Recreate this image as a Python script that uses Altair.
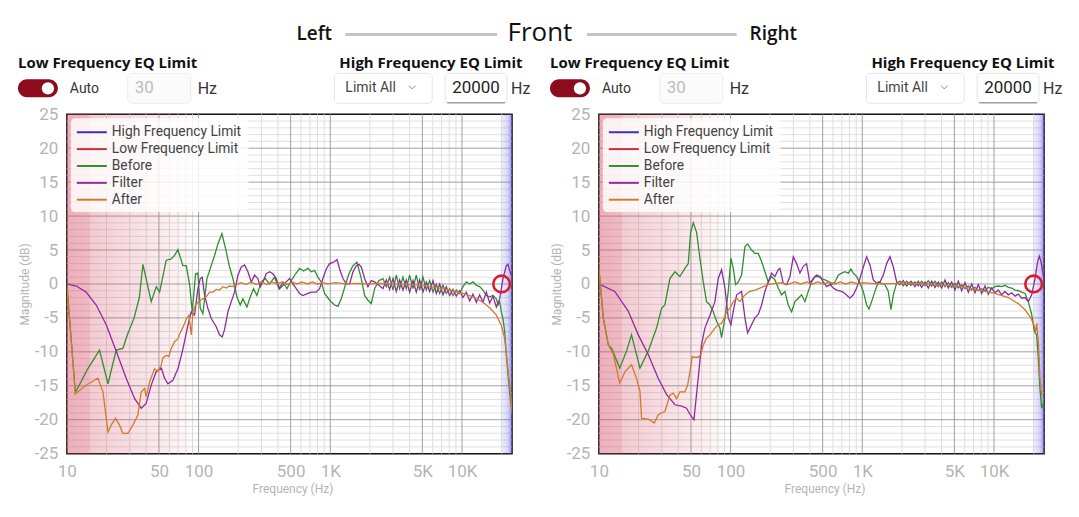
import altair as alt
import pandas as pd

# ---------------- data ----------------
X_DOMAIN = [10, 24000]
Y_DOMAIN = [-25, 25]
X_TICKS = [10, 50, 100, 500, 1000, 5000, 10000]
Y_TICKS = [-25, -20, -15, -10, -5, 0, 5, 10, 15, 20, 25]
X_MAJOR_GRID = [50, 100, 500, 1000, 5000, 10000]
X_MINOR_GRID = [20, 30, 40, 60, 70, 80, 90, 200, 300, 400, 600, 700, 800, 900,
                2000, 3000, 4000, 6000, 7000, 8000, 9000, 20000]
Y_MAJOR_GRID = [-20, -15, -10, -5, 0, 5, 10, 15, 20]
Y_MINOR_GRID = [v for v in range(-24, 25) if v % 5 != 0]

LF_SHADE_DARK = [10, 15]
LF_SHADE_FADE = [10, 100]
HF_SHADE = [20000, 24000]
HF_LIMIT_MARK = [20000, 0]

SERIES = ["High Frequency Limit", "Low Frequency Limit", "Before", "Filter", "After"]
COLORS = ["#3b2ec4", "#c5303f", "#2f8f2f", "#8e2c9e", "#d27a2c"]

L_BEFORE = [(10, 0.0), (11.6, -16.0), (14.4, -12.5), (17.7, -9.75), (20.5, -14.7), (23.7, -9.75),
            (26.6, -9.5), (28.9, -7.4), (32.4, -5.0), (35.5, -2.0), (37.8, 2.9), (43.7, -2.6),
            (47.7, -0.4), (50.6, -1.2), (56.8, 3.5), (62.0, 3.7), (65.7, 4.2), (69.7, 5.05),
            (76.0, 2.7), (80.6, 2.7), (85.4, 0.0), (89.5, -4.1), (94.9, 1.5), (98.8, 1.6),
            (103, -3.6), (107.9, -4.4), (115.7, 0.8), (124.8, 2.7), (132.3, 4.2), (140.2, 5.9),
            (150.4, 7.4), (160.4, 5.2), (171.9, 2.5), (182.3, 0.8), (195.5, -1.9), (207.2, -3.1),
            (217.1, -2.2), (232.8, -3.4), (246.8, -1.9), (261.6, -0.7), (277.3, -1.7), (299.2, 0.3),
            (320.8, 0.8), (346.1, 0.0), (377.7, 1.0), (407.5, -0.7), (437.1, 0.3), (468.8, -0.7),
            (505.6, 0.5), (545.5, 1.5), (585.0, 2.3), (627.4, 1.9), (676.8, 2.3), (717.5, 1.8),
            (760.3, 2.0), (805.9, 1.0), (854.3, 0.3), (905.7, -1.4), (988.3, -2.4), (1079, -3.1),
            (1144, -3.3), (1212, -2.2), (1308, 0.0), (1386, 1.5), (1487, 2.7), (1594, 3.2),
            (1720, 0.8), (1823, -1.7), (1932, -2.4), (2048, -2.9), (2171, -0.7), (2342, 0.5),
            (2512, 0.8), (2663, -0.4), (2822, 1.0), (2992, -0.9), (3171, 1.3), (3362, -0.7),
            (3563, 1.0), (3777, -0.7), (4004, 1.3), (4245, -0.7), (4500, 1.3), (4770, -0.9),
            (5056, 1.0), (5360, -0.9), (5682, 0.5), (6023, -1.2), (6385, 0.0), (6768, -1.4),
            (7175, -0.2), (7603, -1.4), (8060, -0.7), (8544, -1.7), (9057, -0.9), (9601, -1.4),
            (10177, -0.4), (10788, 0.3), (11436, 0.0), (12123, 0.3), (12851, -0.2), (13622, -0.4),
            (14440, -0.9), (15307, -1.7), (16226, -1.9), (17200, -1.7), (18233, -2.2), (18771, -3.1),
            (19327, -2.6), (19898, -4.1), (20487, -5.1), (21093, -7.0), (21718, -10.5), (23010, -15.9),
            (24000, -18.8)]

L_FILTER = [(10, 0.0), (11.8, -0.3), (14.0, -1.2), (16.7, -3.1), (19.9, -6.0), (23.7, -9.9),
            (28.2, -13.9), (32.7, -16.9), (36.7, -18.3), (40.0, -17.6), (43.7, -14.9), (47.7, -12.9),
            (52.1, -12.4), (55.2, -13.9), (58.5, -14.7), (63.8, -14.2), (69.7, -12.5), (76.0, -9.6),
            (83.0, -6.1), (88.0, -4.1), (93.2, -4.6), (98.8, -0.7), (103, 0.8), (106.6, 1.0),
            (111.1, -1.7), (117.7, -3.6), (124.8, -5.1), (136.2, -6.3), (144.3, -7.5), (151.3, -7.8),
            (157.6, -6.7), (167.1, -4.1), (177.1, -2.6), (187.7, -1.2), (198.9, 1.3), (210.9, 2.5),
            (223.6, 2.8), (236.9, 1.8), (251.2, 0.3), (266.3, 1.3), (282.2, 0.8), (294, -0.4),
            (308.1, 0.3), (326.5, 1.5), (346.1, 1.8), (366.9, 1.5), (388.9, 0.8), (412.3, -0.7),
            (437.1, -0.2), (463.3, 0.3), (491.1, 0.8), (520.6, 0.0), (551.9, -0.7), (585.0, -1.4),
            (620.1, -1.7), (676.8, -1.4), (717.5, -1.2), (782.9, -1.2), (829.8, -0.7), (879.6, 0.8),
            (932.3, 2.2), (988.3, 3.0), (1060, 3.2), (1124, 3.6), (1177, 2.2), (1248, 0.8),
            (1323, 0.0), (1403, 0.0), (1487, 1.8), (1576, 2.7), (1651, 2.9), (1720, 2.5),
            (1823, 0.8), (1932, -0.4), (2048, 0.5), (2171, 0.3), (2342, -0.2), (2512, -0.7),
            (2663, 0.6), (2822, -0.8), (2992, 0.8), (3171, -1.1), (3362, 0.6), (3563, -0.9),
            (3777, 0.6), (4004, -1.2), (4245, 0.5), (4500, -1.2), (4770, 0.6), (5056, -1.2),
            (5360, 0.3), (5682, -1.1), (6023, 0.5), (6385, -1.4), (6768, 0.0), (7175, -1.6),
            (7603, -0.4), (8060, -1.7), (8544, -0.8), (9057, -1.8), (9601, -1.0), (10177, -2.0),
            (10788, -1.2), (11436, -2.5), (12123, -1.5), (12851, -2.7), (13622, -1.6), (14440, -2.7),
            (15307, -1.2), (16226, -2.8), (17200, -1.8), (18233, -3.4), (19327, -2.2), (20487, 0.8),
            (21718, 2.7), (22360, 2.9), (23010, 2.0), (24000, 1.0)]

L_AFTER = [(10, -0.4), (11.6, -16.2), (13.2, -15.3), (14.9, -14.6), (17.2, -13.9), (18.8, -15.9),
           (20.5, -21.8), (21.7, -20.8), (23.4, -19.8), (25.1, -20.8), (26.6, -22.0), (29.1, -22.0),
           (31.7, -20.8), (34.6, -19.3), (36.7, -15.9), (38.9, -15.4), (40.0, -16.6), (42.5, -14.4),
           (46.3, -12.5), (49.1, -12.9), (52.1, -11.9), (53.6, -10.9), (56.8, -10.5), (59.5, -10.7),
           (62.0, -9.5), (65.7, -8.5), (69.7, -8.1), (71.7, -7.4), (76.0, -6.4), (80.6, -5.2),
           (84.5, -4.6), (88.0, -7.5), (90.6, -4.1), (94.9, -3.1), (98.8, -2.7), (103, -2.4),
           (107.9, -2.2), (114.4, -1.9), (121.2, -1.2), (128.5, -1.2), (136.2, -0.8), (144.3, -0.9),
           (153.0, -0.4), (162.3, -0.6), (171.9, -0.3), (182.3, -0.4), (193.2, -0.1), (210, 0.2),
           (230, -0.1), (250, 0.3), (275, -0.1), (300, 0.3), (330, -0.1), (360, 0.3), (395, 0.0),
           (430, 0.3), (470, -0.1), (510, 0.3), (560, 0.0), (610, 0.3), (670, 0.0), (730, 0.3),
           (800, 0.0), (880, 0.2), (960, 0.0), (1100, 0.2), (1300, 0.0), (1600, 0.1), (2000, 0.0),
           (2500, 0.1), (3000, 0.0), (4000, -0.1), (5000, -0.2), (5682, -0.4), (7603, -0.8),
           (10177, -1.4), (12123, -1.9), (14440, -2.7), (16226, -3.5), (18233, -4.6), (19898, -6.1),
           (21093, -8.0), (22360, -12.5), (23700, -17.4), (24000, -18.8)]

R_BEFORE = [(10, 2.3), (10.8, -5.0), (11.8, -9.0), (12.5, -9.5), (14.4, -12.4), (16.2, -9.9),
            (17.7, -7.5), (20.5, -12.4), (23.7, -9.9), (27.4, -6.5), (29.9, -3.6), (31.7, -3.1),
            (34.6, 0.8), (37.8, 1.8), (41.2, 1.1), (45.0, 2.3), (47.7, 3.0), (49.7, 7.6), (52.1, 9.0),
            (55.2, 7.6), (58.5, 3.8), (62.0, 0.3), (65.7, -2.6), (69.7, -3.1), (73.9, -4.1),
            (78.3, -5.5), (83.0, -6.5), (85.4, -7.9), (90.6, -5.0), (96.0, -1.1), (100.6, 3.8),
            (104.8, 2.3), (109.1, -0.1), (114.4, 0.3), (121.2, 1.3), (128.5, 5.5), (134.6, 5.9),
            (144.3, 5.0), (153.0, 4.5), (162.3, 4.5), (171.9, 3.3), (182.3, 1.8), (193.2, 0.3),
            (204.8, 1.1), (217.1, 0.6), (230.1, -0.6), (243.9, -1.6), (258.6, -1.1), (274.2, -3.1),
            (290.6, -4.1), (308.1, -2.6), (326.5, -2.1), (346.1, -1.6), (366.9, -2.6), (388.9, -1.1),
            (412.3, 0.3), (437.1, 1.1), (463.3, 1.1), (491.1, 0.8), (520.6, 0.6), (551.9, 0.4),
            (585.0, -0.1), (620.1, 0.3), (657.4, 1.3), (696.7, 1.6), (738.7, 1.8), (782.9, 1.6),
            (820.1, 2.2), (854.3, 1.6), (905.7, 1.1), (960.0, 0.1), (1018, -1.1), (1079, -3.1),
            (1124, -3.7), (1177, -2.6), (1248, -1.1), (1323, 0.3), (1403, 0.1), (1487, -0.1),
            (1576, -1.1), (1651, -3.8), (1720, -1.6), (1823, 0.1), (1932, 0.4), (2048, -0.3),
            (2171, 0.4), (2342, -0.2), (2512, 0.3), (2663, -0.3), (2822, 0.4), (2992, -0.2),
            (3171, 0.5), (3362, -0.3), (3563, 0.4), (3777, -0.4), (4004, 0.3), (4245, -0.4),
            (4500, 0.2), (4770, -0.5), (5056, 0.1), (5360, -0.6), (5682, -0.1), (6023, -0.7),
            (6385, -0.3), (6768, -0.9), (7175, -0.5), (7603, -1.0), (8060, -0.7), (8544, -1.0),
            (9057, -0.5), (9601, -0.7), (10177, -0.4), (10788, -0.3), (11436, -0.4), (12123, -0.2),
            (12851, -0.5), (13622, -0.6), (14440, -0.9), (15307, -1.0), (16226, -1.2), (17200, -1.4),
            (18233, -2.6), (19327, -4.5), (20250, -7.0), (21093, -7.5), (21718, -11.0), (22360, -15.5),
            (23010, -18.3), (23700, -17.6), (24000, -17.0)]

R_FILTER = [(10, 0.0), (13.2, -1.1), (16.7, -4.0), (19.9, -7.5), (23.7, -10.4), (28.2, -13.9),
            (32.7, -16.3), (37.8, -17.8), (42.5, -18.0), (46.3, -18.3), (49.1, -19.2), (52.7, -20.0),
            (56.8, -13.8), (60.2, -8.9), (63.8, -6.5), (69.7, -4.6), (76.0, -2.6), (80.6, 0.8),
            (85.4, 2.1), (90.6, -0.6), (96.0, -5.0), (100.6, -6.0), (104.8, -4.0), (111.1, -1.6),
            (121.2, -1.1), (128.5, -5.0), (134.6, -7.2), (144.3, -6.0), (153.0, -5.0), (162.3, -4.5),
            (171.9, -3.1), (182.3, -1.1), (193.2, 0.3), (204.8, 1.6), (217.1, 1.1), (230.1, 2.1),
            (236.9, 2.3), (251.2, 0.1), (266.3, -0.1), (282.2, 1.1), (299.2, 4.0), (317.1, 3.0),
            (336.2, 1.6), (356.3, 2.6), (377.7, 3.0), (400.4, 0.1), (424.5, 0.8), (450.0, 1.3),
            (477.0, 1.1), (505.6, 0.3), (536.0, -0.4), (568.2, -0.1), (602.3, -0.6), (638.5, -0.9),
            (696.7, -1.1), (738.7, -1.4), (805.9, -2.1), (854.3, -1.6), (905.7, -0.6), (960, 0.8),
            (1018, 2.5), (1079, 4.0), (1144, 2.8), (1212, 0.6), (1285, 0.1), (1362, 0.3),
            (1444, 1.3), (1530, 3.0), (1623, 4.0), (1720, 2.5), (1823, 0.3), (1932, -0.1),
            (2048, 0.5), (2171, -0.3), (2342, 0.4), (2512, -0.4), (2663, 0.4), (2822, -0.5),
            (2992, 0.3), (3171, -0.6), (3362, 0.4), (3563, -0.5), (3777, 0.3), (4004, -0.6),
            (4245, 0.6), (4500, -0.6), (4770, 0.3), (5056, -0.9), (5360, 0.4), (5682, -1.0),
            (6023, 0.2), (6385, -1.2), (6768, 0.0), (7175, -1.3), (7603, -0.1), (8060, -1.4),
            (8544, -0.3), (9057, -1.5), (9601, -0.6), (10177, -1.3), (10788, -0.9), (11436, -1.6),
            (12123, -1.1), (12851, -1.6), (13622, -1.3), (14440, -1.8), (15307, -1.5), (16226, -2.1),
            (17200, -2.0), (18233, -2.6), (19327, -1.6), (20487, 0.8), (21460, 3.3), (22100, 4.1),
            (22750, 3.3), (23700, 1.3), (24000, 0.8)]

R_AFTER = [(10, 2.3), (10.8, -5.0), (11.8, -9.0), (12.85, -10.3), (14.4, -14.6), (15.8, -12.9),
           (17.7, -11.9), (19.3, -13.9), (20.5, -15.8), (21.1, -19.8), (23.7, -19.9), (26.3, -20.5),
           (28.2, -19.3), (29.9, -19.0), (31.7, -18.8), (34.6, -16.4), (36.7, -16.1), (38.9, -16.9),
           (41.2, -15.9), (45.0, -15.9), (47.2, -14.9), (49.1, -12.9), (51.2, -10.7), (53.6, -10.8),
           (56.8, -10.8), (59.5, -10.4), (62.0, -9.0), (65.7, -8.0), (69.7, -7.5), (76.0, -6.5),
           (80.6, -6.0), (85.4, -5.8), (89.5, -5.0), (93.2, -4.1), (98.8, -3.6), (104.8, -2.6),
           (111.1, -2.1), (117.7, -2.6), (124.8, -1.9), (132.3, -1.4), (140.2, -1.1), (153.0, -0.9),
           (167.1, -0.6), (177.1, -0.4), (193.2, -0.1), (217.1, 0.1), (243.9, 0.2), (270, -0.1),
           (308.1, 0.3), (340, 0.0), (380, 0.3), (420, 0.0), (460, 0.3), (510, 0.0), (560, 0.3),
           (620, 0.0), (680, 0.3), (750, 0.0), (830, 0.3), (920, 0.0), (1000, 0.2), (1300, 0.0),
           (2000, 0.1), (3171, 0.0), (5682, -0.4), (7603, -0.9), (10177, -1.4), (12851, -2.0),
           (15307, -2.9), (17200, -3.8), (18771, -4.8), (19898, -5.8), (20730, -7.0), (21093, -5.8),
           (21718, -8.5), (22360, -13.9), (23010, -16.3), (24000, -16.3)]

# ---------------- styling ----------------
FONT = "Roboto"
HEAD_FONT = "Open Sans"
AXIS_GRAY = "#b4b4b4"


def one(**kw):
    return pd.DataFrame({k: [v] for k, v in kw.items()})


XS = alt.Scale(type="log", domain=X_DOMAIN, nice=False)
YS = alt.Scale(domain=Y_DOMAIN, nice=False, zero=False)

X_AXIS = alt.Axis(values=X_TICKS, grid=False, ticks=False, domain=False,
                  labelExpr="datum.value >= 1000 ? format(datum.value/1000, 'd') + 'K' : format(datum.value, 'd')",
                  labelFont=FONT, labelFontSize=17, labelColor=AXIS_GRAY, labelPadding=10,
                  labelFlush=False, title="Frequency (Hz)", titleFont=FONT, titleFontSize=12,
                  titleFontWeight="normal", titleColor=AXIS_GRAY, titleY=30, titleX=226,
                  titleBaseline="top")
Y_AXIS = alt.Axis(values=Y_TICKS, grid=False, ticks=False, domain=False,
                  labelExpr="'' + datum.value",
                  labelFont=FONT, labelFontSize=17, labelColor=AXIS_GRAY, labelPadding=9,
                  title="Magnitude (dB)", titleFont=FONT, titleFontSize=12,
                  titleFontWeight="normal", titleColor=AXIS_GRAY, titleX=-35, titleY=170,
                  titleAngle=-90, titleBaseline="bottom", titleAlign="center")


def xenc(field):
    return alt.X(field, scale=XS, axis=X_AXIS)


def yenc(field):
    return alt.Y(field, scale=YS, axis=Y_AXIS)


def curve_df(pairs):
    return pd.DataFrame({"f": [p[0] for p in pairs], "db": [p[1] for p in pairs]})


def text(s, x, y, size, color="#222", weight="normal", font=FONT, align="left"):
    return alt.Chart(one(t=s)).mark_text(align=align, baseline="middle", fontSize=size, font=font,
                                          fontWeight=weight, color=color).encode(
        x=alt.value(x), y=alt.value(y), text="t:N")


def box(x1, y1, x2, y2, fill, stroke=None, radius=0, opacity=1.0, sw=1.0):
    kw = dict(fill=fill, cornerRadius=radius, opacity=opacity)
    if stroke:
        kw.update(stroke=stroke, strokeWidth=sw)
    return alt.Chart(one(a=0)).mark_rect(**kw).encode(
        x=alt.value(x1), x2=alt.value(x2), y=alt.value(y1), y2=alt.value(y2))


def seg(x1, y1, x2, y2, color, sw):
    return alt.Chart(one(a=0)).mark_rule(color=color, strokeWidth=sw).encode(
        x=alt.value(x1), x2=alt.value(x2), y=alt.value(y1), y2=alt.value(y2))


def band(lo_hi, gradient):
    df = one(lo=lo_hi[0], hi=lo_hi[1], ylo=Y_DOMAIN[0], yhi=Y_DOMAIN[1])
    return alt.Chart(df).mark_rect(fill=gradient).encode(
        x=xenc("lo:Q"), x2="hi:Q", y=yenc("ylo:Q"), y2="yhi:Q")


def grad(stops):
    return alt.LinearGradient(gradient="linear", x1=0, x2=1, y1=0, y2=0,
                              stops=[alt.GradientStop(offset=o, color=c) for o, c in stops])


def panel(before, filt, after, anchor, with_title):
    layers = []
    # grid
    layers.append(alt.Chart(pd.DataFrame({"g": X_MINOR_GRID})).mark_rule(color="#dcdcdc", strokeWidth=1).encode(
        x=xenc("g:Q")))
    layers.append(alt.Chart(pd.DataFrame({"g": Y_MINOR_GRID})).mark_rule(color="#e0e0e0", strokeWidth=1).encode(
        y=yenc("g:Q")))
    layers.append(alt.Chart(pd.DataFrame({"g": X_MAJOR_GRID})).mark_rule(color="#a0a0a0", strokeWidth=1).encode(
        x=xenc("g:Q")))
    layers.append(alt.Chart(pd.DataFrame({"g": Y_MAJOR_GRID})).mark_rule(color="#a0a0a0", strokeWidth=1).encode(
        y=yenc("g:Q")))
    # shaded limit regions (over the grid, under the curves)
    layers.append(band(LF_SHADE_FADE, grad([(0, "rgba(214,80,105,0.36)"), (0.4, "rgba(214,80,105,0.22)"),
                                            (0.8, "rgba(214,80,105,0.09)"), (1, "rgba(214,80,105,0.0)")])))
    layers.append(band(LF_SHADE_DARK, grad([(0, "rgba(214,80,105,0.14)"), (1, "rgba(214,80,105,0.14)")])))
    layers.append(band(HF_SHADE, grad([(0, "rgba(120,110,235,0.10)"), (0.6, "rgba(110,100,230,0.28)"),
                                       (1, "rgba(80,70,210,0.60)")])))
    # curves
    for data, col in ((before, COLORS[2]), (filt, COLORS[3]), (after, COLORS[4])):
        layers.append(alt.Chart(curve_df(data)).mark_line(color=col, strokeWidth=1.3, clip=True).encode(
            x=xenc("f:Q"), y=yenc("db:Q")))
    # high-frequency limit marker
    layers.append(alt.Chart(one(f=HF_LIMIT_MARK[0], db=HF_LIMIT_MARK[1])).mark_point(
        shape="circle", filled=False, color="#d81e2c", strokeWidth=2.6, size=280, opacity=1).encode(
        x=xenc("f:Q"), y=yenc("db:Q")))
    # legend
    layers.append(box(4, 4, 182, 98, "white", radius=4, opacity=0.82))
    for i, (name, col) in enumerate(zip(SERIES, COLORS)):
        yy = 18 + 16.9 * i
        layers.append(seg(10, yy, 40, yy, col, 2))
        layers.append(text(name, 45, yy, 13.8, color="#444"))
    # header controls
    layers.append(text("Low Frequency EQ Limit", -49, -51, 15, color="#111", weight="bold", font=HEAD_FONT))
    layers.append(box(-49, -35, -9, -17, "#8c0c1e", radius=9))
    layers.append(alt.Chart(one(a=0)).mark_point(shape="circle", filled=True, color="white", size=150,
                                                 opacity=1).encode(x=alt.value(-19), y=alt.value(-26)))
    layers.append(text("Auto", 3, -25, 14, color="#333"))
    layers.append(box(61, -41, 124, -11, "#fbfbfb", stroke="#ececec", radius=4))
    layers.append(text("30", 68, -26, 17, color="#bdbdbd"))
    layers.append(text("Hz", 131, -25, 16, color="#333"))
    layers.append(text("High Frequency EQ Limit", 273, -51, 15, color="#111", weight="bold", font=HEAD_FONT))
    layers.append(box(268, -41, 366, -11, "white", stroke="#e3e3e3", radius=4))
    layers.append(text("Limit All", 279, -26, 14, color="#444"))
    layers.append(alt.Chart(one(a=0)).mark_point(shape="M-1,-0.5L0,0.5L1,-0.5", filled=False, color="#888",
                                                 strokeWidth=1, size=40, opacity=1).encode(
        x=alt.value(346), y=alt.value(-27)))
    layers.append(box(379, -41, 441, -11, "white", stroke="#e3e3e3", radius=4))
    layers.append(seg(381, -11.5, 439, -11.5, "#808080", 1))
    layers.append(text("20000", 386, -26, 17, color="#222"))
    layers.append(text("Hz", 445, -25, 16, color="#333"))
    if with_title:
        layers.append(text("Left", 230, -80, 19, color="#111", weight=600, font=HEAD_FONT))
        layers.append(seg(279, -80, 431, -80, "#c4c4c4", 3))
        layers.append(text("Front", 474, -81, 26, color="#111", font=HEAD_FONT, align="center"))
        layers.append(seg(521, -80, 671, -80, "#c4c4c4", 3))
        layers.append(text("Right", 684, -80, 19, color="#111", weight=600, font=HEAD_FONT))
    # invisible page-corner anchor
    layers.append(alt.Chart(one(a=0)).mark_rule(opacity=0, strokeWidth=0.01).encode(
        x=alt.value(anchor[0]), x2=alt.value(anchor[0] + 1), y=alt.value(anchor[1]), y2=alt.value(anchor[1])))
    return alt.layer(*layers).properties(width=446, height=340)


left = panel(L_BEFORE, L_FILTER, L_AFTER, (-66, -113), True)
right = panel(R_BEFORE, R_FILTER, R_AFTER, (479, 404), False)

chart = alt.hconcat(left, right, spacing=87, bounds="flush").properties(
    padding=0, background="white"
).configure_view(stroke="#111", strokeWidth=1.5)

chart.save("out.html", embed_options={"renderer": "svg", "actions": False})
